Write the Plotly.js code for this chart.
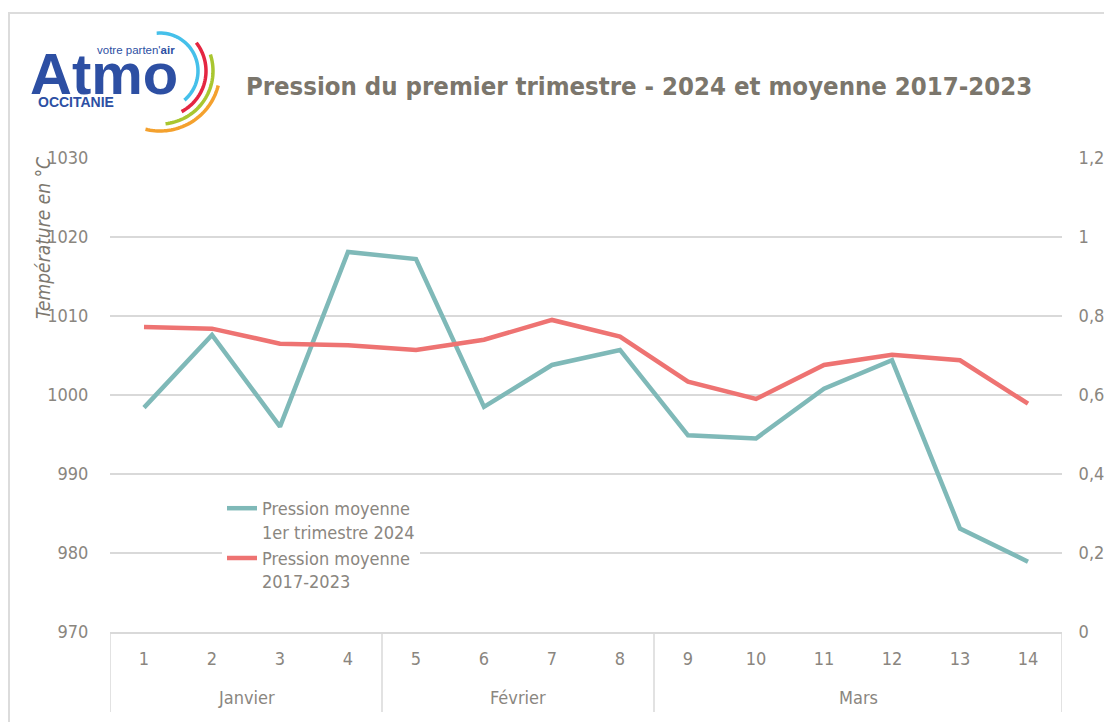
<!DOCTYPE html>
<html>
<head>
<meta charset="utf-8">
<script src="https://cdn.plot.ly/plotly-3.0.1.min.js"></script>
<style>
  html, body { margin: 0; padding: 0; background: #ffffff; }
  #chart { width: 1104px; height: 722px; }
</style>
</head>
<body>
<div id="chart"></div>
<script>
// ---- Data ----
const days = [1, 2, 3, 4, 5, 6, 7, 8, 9, 10, 11, 12, 13, 14];
const months = ["Janvier", "Février", "Mars"];
const monthDays = [[1, 2, 3, 4], [5, 6, 7, 8], [9, 10, 11, 12, 13, 14]];
const pression2024 = [998.4, 1007.6, 996.0, 1018.1, 1017.2, 998.5, 1003.8, 1005.7, 994.9, 994.5, 1000.8, 1004.4, 983.1, 978.9];
const pressionMoy = [1008.6, 1008.4, 1006.5, 1006.3, 1005.7, 1007.0, 1009.5, 1007.4, 1001.7, 999.5, 1003.8, 1005.1, 1004.4, 998.9];
const leftTicks = [970, 980, 990, 1000, 1010, 1020, 1030];
const rightTicks = [0, 0.2, 0.4, 0.6, 0.8, 1, 1.2];
const rightTickText = ["0", "0,2", "0,4", "0,6", "0,8", "1", "1,2"];
const seriesNames = ["Pression moyenne<br>1er trimestre 2024", "Pression moyenne<br>2017-2023"];
const titleText = "Pression du premier trimestre - 2024 et moyenne 2017-2023";
const yTitleText = "Température en °C";

// ---- Layout helpers ----
const W = 1104, H = 722;
const L = 110, R = 1062, T = 158, B = 632;
const pw = R - L, ph = B - T;
const px = x => (x - L) / pw;
const py = y => (B - y) / ph;

const FONT = "'Liberation Sans Narrow', 'Arial Narrow', 'DejaVu Sans Condensed', sans-serif";
const TXT = "#8a867f";
const GRID = "#d9d9d9";

const traces = [
  { x: days, y: pression2024, type: "scatter", mode: "lines", name: seriesNames[0],
    line: { color: "#7fb9b8", width: 4.5 } },
  { x: days, y: pressionMoy, type: "scatter", mode: "lines", name: seriesNames[1],
    line: { color: "#ee7372", width: 4.5 } },
  { x: [days[0]], y: [0], yaxis: "y2", type: "scatter", mode: "lines", showlegend: false,
    hoverinfo: "skip", line: { color: "rgba(0,0,0,0)" } }
];

const shapes = [];
// outer border
shapes.push({ type: "rect", xref: "paper", yref: "paper", x0: px(9), x1: px(1130), y0: py(13), y1: py(760),
  line: { color: "#dcdcdc", width: 2 }, fillcolor: "rgba(0,0,0,0)", layer: "below" });
// category group separators
const bottomY = py(712);
const bounds = [monthDays[0][0] - 0.5];
monthDays.forEach(m => bounds.push(m[m.length - 1] + 0.5));
bounds.forEach(b => shapes.push({ type: "line", xref: "x", yref: "paper", x0: b, x1: b, y0: 0, y1: bottomY,
  line: { color: GRID, width: 1.5 } }));

// logo arcs
function arc(cx, cy, r, a0, a1, color) {
  let d = "";
  const n = 40;
  for (let i = 0; i <= n; i++) {
    const a = (a0 + (a1 - a0) * i / n) * Math.PI / 180;
    const X = px(cx + r * Math.cos(a)), Y = py(cy + r * Math.sin(a));
    d += (i === 0 ? "M" : "L") + X.toFixed(5) + "," + Y.toFixed(5);
  }
  return { type: "path", xref: "paper", yref: "paper", path: d, line: { color: color, width: 3.5 } };
}
shapes.push(arc(160, 71, 38, -95, 50, "#45c0ea"));
shapes.push(arc(160, 71, 46, -38, 62, "#e42641"));
shapes.push(arc(160, 71, 53, -18, 84, "#a9c630"));
shapes.push(arc(160, 71, 60, 14, 104, "#f4a12e"));

const annotations = [];
// month labels
months.forEach((m, i) => {
  const md = monthDays[i];
  const c = (md[0] + md[md.length - 1]) / 2;
  annotations.push({ text: m, x: c, xref: "x", y: py(697), yref: "paper", showarrow: false,
    xanchor: "center", yanchor: "middle", font: { family: FONT, size: 18, color: TXT } });
});
// y axis title
annotations.push({ text: "<i>" + yTitleText + "</i>", textangle: -90, x: px(43), y: py(238), xref: "paper", yref: "paper",
  showarrow: false, xanchor: "center", yanchor: "middle", font: { family: FONT, size: 19, color: "#7d786f" } });
// logo text
annotations.push({ text: "<b>Atmo</b>", x: px(104), y: py(73), xref: "paper", yref: "paper", showarrow: false,
  xanchor: "center", yanchor: "middle", font: { family: "'Liberation Sans', Arial, sans-serif", size: 58, color: "#2d4fa3" } });
annotations.push({ text: "votre parten'<b>air</b>", x: px(136), y: py(50), xref: "paper", yref: "paper", showarrow: false,
  xanchor: "center", yanchor: "middle", font: { family: "'Liberation Sans', Arial, sans-serif", size: 11.5, color: "#2d4fa3" } });
annotations.push({ text: "<b>OCCITANIE</b>", x: px(76), y: py(102), xref: "paper", yref: "paper", showarrow: false,
  xanchor: "center", yanchor: "middle", font: { family: "'Liberation Sans', Arial, sans-serif", size: 14, color: "#2d4fa3" } });

const layout = {
  width: W, height: H,
  paper_bgcolor: "#ffffff", plot_bgcolor: "#ffffff",
  margin: { l: L, r: W - R, t: T, b: H - B, pad: 0 },
  title: { text: "<b>" + titleText + "</b>", x: 639 / W, xref: "container", xanchor: "center",
    y: 1 - 86 / H, yref: "container", yanchor: "middle",
    font: { family: FONT, size: 25.5, color: "#7b766c" } },
  showlegend: true,
  legend: { x: px(222), y: py(490), xanchor: "left", yanchor: "top", bgcolor: "#ffffff", valign: "top",
    font: { family: FONT, size: 18, color: TXT }, tracegroupgap: 0, itemwidth: 30 },
  xaxis: { range: [0.5, 14.5], tickvals: days, ticktext: days.map(String), showgrid: false, zeroline: false,
    showline: true, linecolor: GRID, linewidth: 1.5, ticks: "outside", ticklen: 10, tickcolor: "rgba(0,0,0,0)",
    tickfont: { family: FONT, size: 18, color: TXT }, fixedrange: true },
  yaxis: { range: [970, 1030], tickvals: leftTicks, showgrid: true, gridcolor: GRID, gridwidth: 1.5,
    zeroline: false, showline: false, ticks: "outside", ticklen: 17, tickcolor: "rgba(0,0,0,0)",
    tickfont: { family: FONT, size: 18, color: TXT } },
  yaxis2: { range: [0, 1.2], overlaying: "y", side: "right", tickvals: rightTicks, ticktext: rightTickText,
    showgrid: false, zeroline: false, showline: false, ticks: "outside", ticklen: 12, tickcolor: "rgba(0,0,0,0)",
    tickfont: { family: FONT, size: 18, color: TXT } },
  shapes: shapes,
  annotations: annotations
};

Plotly.newPlot("chart", traces, layout, { displayModeBar: false, staticPlot: true });
</script>
</body>
</html>
